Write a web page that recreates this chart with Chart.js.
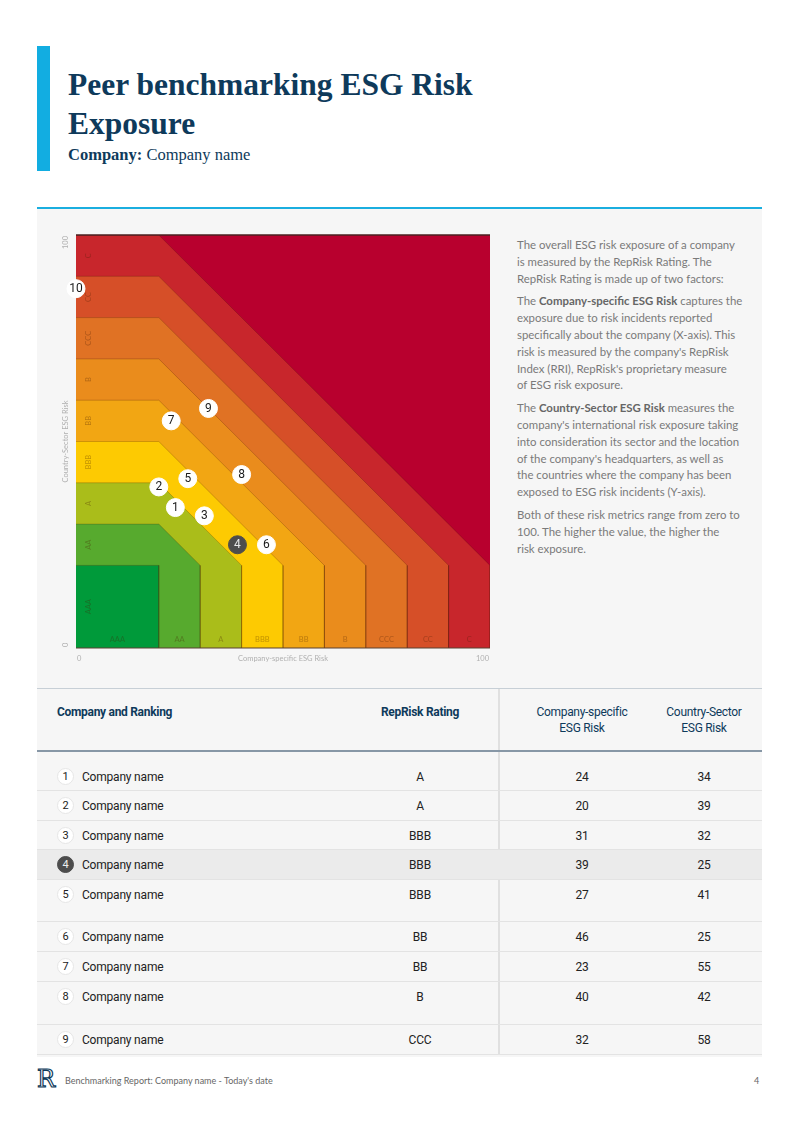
<!DOCTYPE html>
<html>
<head>
<meta charset="utf-8">
<script src="https://cdn.jsdelivr.net/npm/chart.js@4.4.1/dist/chart.umd.min.js"></script>
<style>
  body { margin:0; width:800px; height:1132px; background:#fff; position:relative; overflow:hidden; font-family:Roboto, sans-serif; }
  .abs { position:absolute; }
  #bar { left:37px; top:46px; width:13px; height:125px; background:#12ADE1; }
  #title { left:68px; top:65px; margin:0; font-family:"Liberation Serif", serif; font-weight:bold; font-size:31.5px; line-height:39px; color:#0E3A5B; }
  #company { left:68px; top:145px; font-family:"Liberation Serif", serif; font-size:16.5px; color:#0E3A5B; }
  #panel { left:37px; top:207px; width:725px; height:848px; background:#F6F6F6; border-top:2px solid #1AAEDF; }
  #chartBox { left:50px; top:225px; width:450px; height:445px; }
  #desc { left:517px; top:237px; width:240px; font-family:Lato, sans-serif; font-size:11.4px; line-height:16.8px; color:#7a7a7a; }
  #desc p { margin:0 0 6px 0; }
  #desc b { color:#666; }
  #divider { left:37px; top:688px; width:725px; height:1px; background:#c7cfd6; }
  #vline { left:498px; top:689px; width:1.5px; height:366px; background:#e0e0e0; }
  #headBorder { left:37px; top:750px; width:725px; height:1.5px; background:#8797a6; }
  .th { color:#0E3A5B; font-size:12px; line-height:16px; letter-spacing:-0.3px; }
  .row { position:absolute; left:37px; width:725px; border-bottom:1.5px solid #e3e3e3; font-size:12px; color:#222; letter-spacing:-0.2px; }
  .row span { position:absolute; top:8px; line-height:14px; }
  .row span.rank { left:20px; width:15px; height:15px; border-radius:50%; background:#fff; border:1px solid #e6e6e6; text-align:center; font-size:11px; line-height:15px; top:6px; letter-spacing:0; }
  #footer { left:65px; top:1075px; font-family:Lato, sans-serif; font-size:9px; color:#666; }
  #pageNo { left:754px; top:1075px; font-family:Lato, sans-serif; font-size:9px; color:#666; }
  #logo { left:37px; top:1066px; font-family:"DejaVu Serif", serif; font-size:24px; line-height:26px; color:#fff; -webkit-text-stroke:1.2px #0E3A5B; }
</style>
</head>
<body>
<div id="bar" class="abs"></div>
<h1 id="title" class="abs">Peer benchmarking ESG Risk<br>Exposure</h1>
<div id="company" class="abs"><b>Company:</b> Company name</div>
<div id="panel" class="abs"></div>
<div id="chartBox" class="abs"><canvas id="c" width="450" height="445"></canvas></div>
<div id="desc" class="abs">
  <p>The overall ESG risk exposure of a company<br>is measured by the RepRisk Rating. The<br>RepRisk Rating is made up of two factors:</p>
  <p>The <b>Company-specific ESG Risk</b> captures the<br>exposure due to risk incidents reported<br>specifically about the company (X-axis). This<br>risk is measured by the company's RepRisk<br>Index (RRI), RepRisk's proprietary measure<br>of ESG risk exposure.</p>
  <p>The <b>Country-Sector ESG Risk</b> measures the<br>company's international risk exposure taking<br>into consideration its sector and the location<br>of the company's headquarters, as well as<br>the countries where the company has been<br>exposed to ESG risk incidents (Y-axis).</p>
  <p>Both of these risk metrics range from zero to<br>100. The higher the value, the higher the<br>risk exposure.</p>
</div>
<div id="divider" class="abs"></div>
<div id="vline" class="abs"></div>
<div class="abs th" style="left:57px;top:704px;font-weight:bold;">Company and Ranking</div>
<div class="abs th" style="left:360px;width:120px;top:704px;font-weight:bold;text-align:center;">RepRisk Rating</div>
<div class="abs th" style="left:522px;width:120px;top:704px;text-align:center;">Company-specific<br>ESG Risk</div>
<div class="abs th" style="left:644px;width:120px;top:704px;text-align:center;">Country-Sector<br>ESG Risk</div>
<div id="headBorder" class="abs"></div>
<div id="rows"></div>
<div id="logo" class="abs">R</div>
<div id="footer" class="abs">Benchmarking Report: Company name - Today's date</div>
<div id="pageNo" class="abs">4</div>

<script>
// rating bands, from best to worst
var ratings = ['AAA', 'AA', 'A', 'BBB', 'BB', 'B', 'CCC', 'CC', 'C'];
var bandLimits = [20, 30, 40, 50, 60, 70, 80, 90, 100];
var bandLabelAt = [10, 25, 35, 45, 55, 65, 75, 85, 95];

// peers
var ranks = [1, 2, 3, 4, 5, 6, 7, 8, 9, 10];
var companySpecific = [24, 20, 31, 39, 27, 46, 23, 40, 32, 0];
var countrySector = [34, 39, 32, 25, 41, 25, 55, 42, 58, 87];
var repRiskRating = ['A', 'A', 'BBB', 'BBB', 'BBB', 'BB', 'BB', 'B', 'CCC'];
var highlighted = 4;

var bandColors = ['#009A3A', '#57AA2E', '#AABD1A', '#FDCA02', '#F2A613', '#EA8C1C', '#E07224', '#D64F28', '#C8262C'];
var topColor = '#B8002E';

// table
var rowHeights = [29, 30, 29, 30, 42, 30, 30, 43, 30];
var rowsDiv = document.getElementById('rows');
var rowTop = 762;
for (var r = 0; r < repRiskRating.length; r++) {
    var row = document.createElement('div');
    row.className = 'row';
    row.style.top = rowTop + 'px';
    row.style.height = (rowHeights[r] - 1.5) + 'px';
    if (ranks[r] === highlighted) {
        row.style.background = '#EBEBEB';
    }
    var rk = ranks[r] === highlighted ? 'background:#4d4d4d;color:#eee;border-color:#4d4d4d;' : '';
    row.innerHTML =
        '<span class="rank" style="' + rk + '">' + ranks[r] + '</span>' +
        '<span style="left:45px">Company name</span>' +
        '<span style="left:323px;width:120px;text-align:center">' + repRiskRating[r] + '</span>' +
        '<span style="left:485px;width:120px;text-align:center">' + companySpecific[r] + '</span>' +
        '<span style="left:607px;width:120px;text-align:center">' + countrySector[r] + '</span>';
    rowsDiv.appendChild(row);
    rowTop += rowHeights[r];
}

// band polygons built from the limits
function bandPoints(t) {
    var a = bandLimits[0];
    return [{x: 0, y: t}, {x: a, y: t}, {x: t, y: a}, {x: t, y: 0}];
}

var datasets = [{
    label: 'peers',
    data: ranks.map(function(k, i) { return {x: companySpecific[i], y: countrySector[i]}; }),
    pointRadius: 9,
    pointBackgroundColor: ranks.map(function(k) { return k === highlighted ? '#4d4d4d' : '#ffffff'; }),
    pointBorderColor: ranks.map(function(k) { return k === highlighted ? '#4d4d4d' : '#ffffff'; }),
    pointBorderWidth: 1,
    showLine: false,
    clip: false
}];
for (var i = 0; i < ratings.length; i++) {
    datasets.push({
        label: ratings[i],
        data: bandPoints(bandLimits[i]),
        showLine: true,
        fill: 'origin',
        backgroundColor: bandColors[i],
        borderColor: 'rgba(60,20,0,0.22)',
        borderWidth: 1,
        pointRadius: 0,
        tension: 0
    });
}
datasets.push({
    label: 'top',
    data: [{x: 0, y: 100}, {x: 100, y: 100}, {x: 100, y: 0}],
    showLine: true,
    fill: 'origin',
    backgroundColor: topColor,
    borderWidth: 0,
    pointRadius: 0
});

var overlay = {
    id: 'overlay',
    afterDatasetDraw: function(chart, args) {
        if (args.index !== 1) return;
        var ctx = chart.ctx, xs = chart.scales.x, ys = chart.scales.y;
        ctx.save();
        ctx.font = '7.5px Lato';
        ctx.fillStyle = 'rgba(70,30,0,0.34)';
        ctx.textAlign = 'center';
        ctx.textBaseline = 'middle';
        for (var i = 0; i < ratings.length; i++) {
            ctx.fillText(ratings[i], xs.getPixelForValue(bandLabelAt[i]), ys.getPixelForValue(2));
            ctx.save();
            ctx.translate(xs.getPixelForValue(3), ys.getPixelForValue(bandLabelAt[i]));
            ctx.rotate(-Math.PI / 2);
            ctx.fillText(ratings[i], 0, 0);
            ctx.restore();
        }
        // frame lines
        ctx.strokeStyle = '#4a2020';
        ctx.lineWidth = 1.5;
        ctx.beginPath();
        ctx.moveTo(xs.getPixelForValue(0), ys.getPixelForValue(100));
        ctx.lineTo(xs.getPixelForValue(100), ys.getPixelForValue(100));
        ctx.stroke();
        ctx.strokeStyle = '#5a4030';
        ctx.lineWidth = 1.2;
        ctx.beginPath();
        ctx.moveTo(xs.getPixelForValue(0), ys.getPixelForValue(0));
        ctx.lineTo(xs.getPixelForValue(100), ys.getPixelForValue(0));
        ctx.stroke();
        ctx.restore();
    },
    afterDatasetsDraw: function(chart) {
        var ctx = chart.ctx, xs = chart.scales.x, ys = chart.scales.y;
        var meta = chart.getDatasetMeta(0);
        ctx.save();
        ctx.font = '12px Roboto';
        ctx.textAlign = 'center';
        ctx.textBaseline = 'middle';
        meta.data.forEach(function(pt, i) {
            ctx.fillStyle = ranks[i] === highlighted ? '#e6e6e6' : '#1a1a1a';
            ctx.fillText(String(ranks[i]), pt.x, pt.y + 0.5);
        });
        // axis texts
        ctx.font = '7.5px Lato';
        ctx.fillStyle = '#b0b0b0';
        ctx.textBaseline = 'middle';
        var by = ys.getPixelForValue(0) + 11;
        ctx.textAlign = 'left';
        ctx.fillText('0', xs.getPixelForValue(0) + 1, by);
        ctx.textAlign = 'right';
        ctx.fillText('100', xs.getPixelForValue(100) - 1, by);
        ctx.textAlign = 'center';
        ctx.fillText('Company-specific ESG Risk', xs.getPixelForValue(50), by);
        var lx = xs.getPixelForValue(0) - 10;
        ctx.translate(lx, 0);
        ctx.rotate(-Math.PI / 2);
        ctx.textAlign = 'left';
        ctx.fillText('0', -ys.getPixelForValue(0) + 1, 0);
        ctx.textAlign = 'right';
        ctx.fillText('100', -ys.getPixelForValue(100) - 1, 0);
        ctx.textAlign = 'center';
        ctx.fillText('Country-Sector ESG Risk', -ys.getPixelForValue(50), 0);
        ctx.restore();
    }
};

var chart = new Chart(document.getElementById('c').getContext('2d'), {
    type: 'scatter',
    data: {datasets: datasets},
    options: {
        responsive: false,
        animation: false,
        events: [],
        layout: {padding: {left: 26, top: 10, right: 10, bottom: 22}},
        scales: {
            x: {type: 'linear', min: 0, max: 100, display: false},
            y: {type: 'linear', min: 0, max: 100, display: false}
        },
        plugins: {legend: {display: false}, tooltip: {enabled: false}}
    },
    plugins: [overlay]
});
</script>
</body>
</html>
